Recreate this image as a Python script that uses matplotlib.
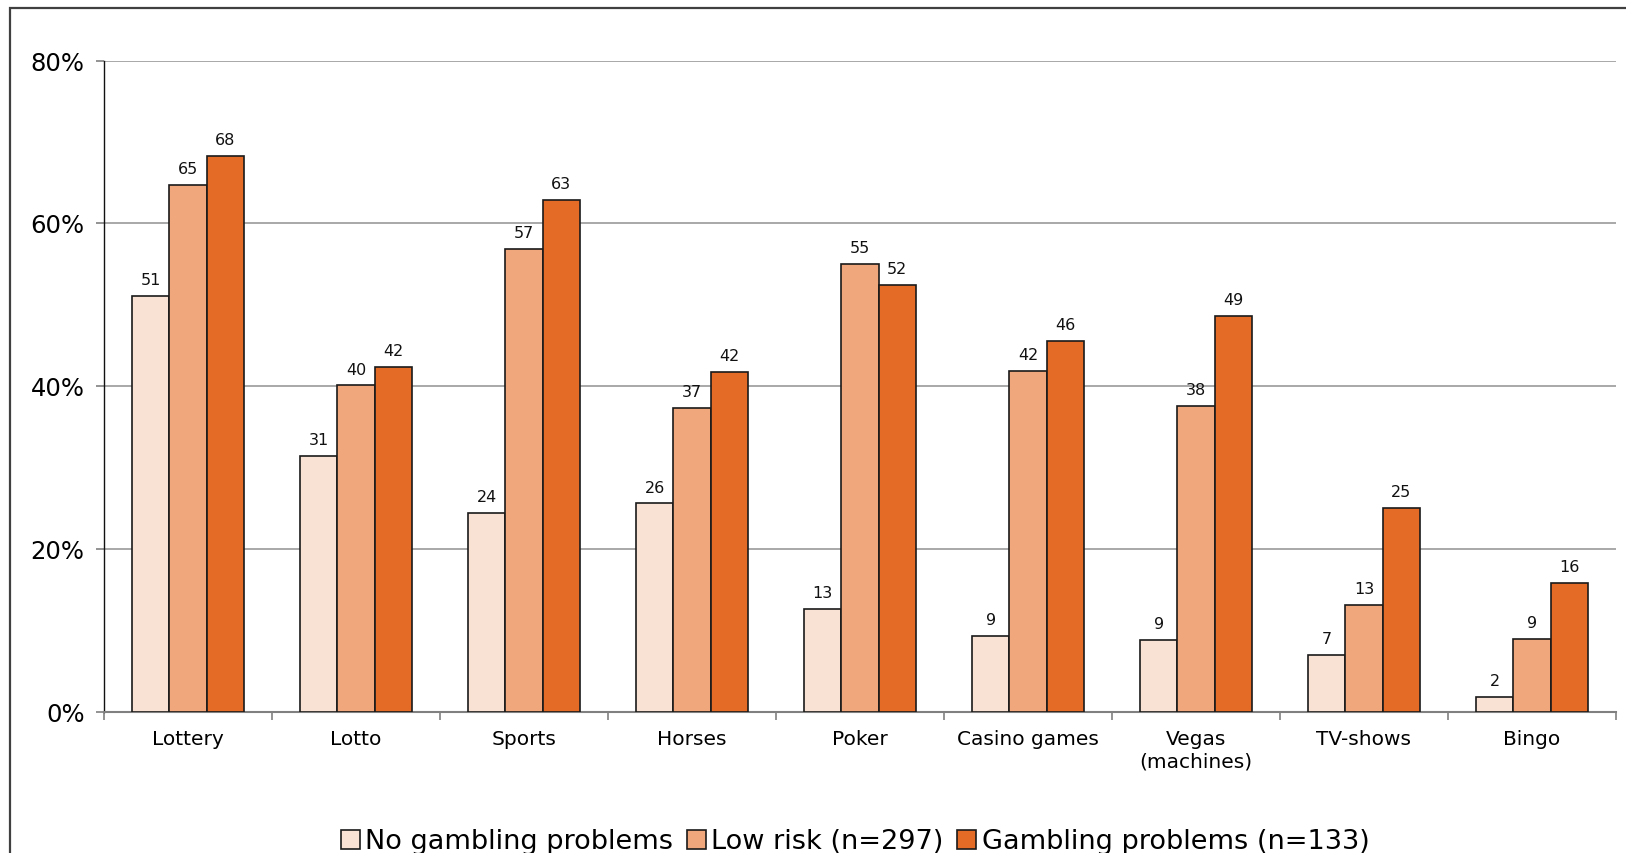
import matplotlib
matplotlib.use('Agg')
import matplotlib.pyplot as plt
import numpy as np
from matplotlib.patches import Rectangle

categories = ['Lottery', 'Lotto', 'Sports', 'Horses', 'Poker', 'Casino games',
              'Vegas\n(machines)', 'TV-shows', 'Bingo']
no_problems = [51.1, 31.4, 24.4, 25.6, 12.6, 9.3, 8.8, 7.0, 1.8]
low_risk = [64.7, 40.1, 56.9, 37.3, 55.0, 41.9, 37.6, 13.1, 9.0]
gambling_problems = [68.3, 42.4, 62.9, 41.8, 52.4, 45.6, 48.6, 25.1, 15.8]
series_names = ['No gambling problems', 'Low risk (n=297)', 'Gambling problems (n=133)']
yticks = [0, 20, 40, 60, 80]

colors = ['#F9E1D4', '#F0A77B', '#E36B25']

fig = plt.figure(figsize=(16.26, 8.535), dpi=100)
ax = fig.add_axes([0.064, 0.1653, 0.9298, 0.7632])

x = np.arange(len(categories))
w = 0.222
all_series = [no_problems, low_risk, gambling_problems]
for i, vals in enumerate(all_series):
    bars = ax.bar(x + (i - 1) * w, vals, w, color=colors[i], edgecolor='#1a1a1a',
                  linewidth=1.2, label=series_names[i], zorder=3)
    for b, v in zip(bars, vals):
        ax.annotate(str(int(round(v))), (b.get_x() + b.get_width() / 2, v),
                    xytext=(0, 6), textcoords='offset points', ha='center', va='bottom',
                    fontsize=11.5, color='#111111')

ax.set_xlim(-0.5, len(categories) - 0.5)
ax.set_ylim(0, 80)
ax.set_yticks(yticks)
ax.set_yticklabels([str(t) + '%' for t in yticks], fontsize=17.5)
ax.yaxis.grid(True, color='#A8A8A8', linewidth=1.4, zorder=0)
ax.set_axisbelow(True)

ax.set_xticks(x)
ax.set_xticklabels(categories, fontsize=14.5)
ax.set_xticks(np.arange(len(categories) + 1) - 0.5, minor=True)
ax.tick_params(axis='x', which='major', length=0, pad=13)
ax.tick_params(axis='x', which='minor', length=6, color='#808080', width=1.2)
ax.tick_params(axis='y', length=6, color='#808080', width=1.2, pad=8)

ax.spines['top'].set_visible(False)
ax.spines['right'].set_visible(False)
ax.spines['left'].set_color('#111111')
ax.spines['left'].set_linewidth(1.0)
ax.spines['bottom'].set_color('#808080')
ax.spines['bottom'].set_linewidth(1.5)

# outer frame, runs off the right and bottom edges
fig.patches.append(Rectangle((10 / 1626, -0.2), 1.2, 1.2 - 8 / 853,
                             transform=fig.transFigure, fill=False,
                             edgecolor='#404040', linewidth=1.6))

fig.legend(loc='center', bbox_to_anchor=(0.526, 0.013), ncol=3, frameon=False,
           fontsize=19.5, handlelength=0.7, handleheight=0.7, handletextpad=0.2,
           columnspacing=0.5, borderpad=0)

plt.savefig('out.png', dpi=100)
